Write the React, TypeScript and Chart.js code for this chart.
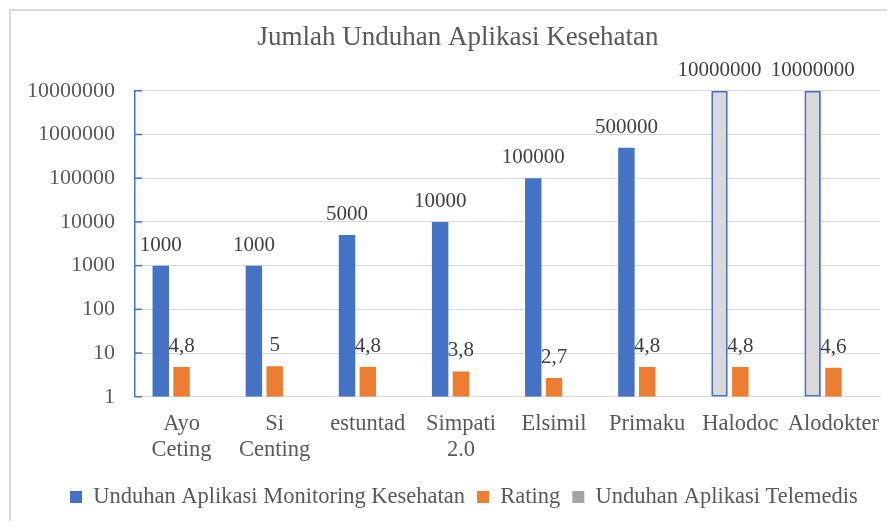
import React, { useEffect, useRef } from "react";
import { Chart, registerables } from "chart.js";

Chart.register(...registerables);

const FONT = "'Liberation Serif', 'Times New Roman', serif";

const categories: (string | string[])[] = [
  ["Ayo", "Ceting"],
  ["Si", "Centing"],
  "estuntad",
  ["Simpati", "2.0"],
  "Elsimil",
  "Primaku",
  "Halodoc",
  "Alodokter",
];
const downloads = [1000, 1000, 5000, 10000, 100000, 500000, 10000000, 10000000];
const ratings = [4.8, 5, 4.8, 3.8, 2.7, 4.8, 4.8, 4.6];
const telemedisEmpty = [null, null, null, null, null, null, null, null];
const isTelemedis = [false, false, false, false, false, false, true, true];
const yTicks = [1, 10, 100, 1000, 10000, 100000, 1000000, 10000000];
const seriesNames = [
  "Unduhan Aplikasi Monitoring Kesehatan",
  "Rating",
  "Unduhan Aplikasi Telemedis",
];
const seriesColors = ["#4472C4", "#ED7D31", "#A5A5A5"];

const dataLabels = {
  id: "dataLabels",
  afterDatasetsDraw(chart: any) {
    const ctx = chart.ctx;
    ctx.save();
    ctx.font = `21px ${FONT}`;
    ctx.fillStyle = "#404040";
    ctx.textAlign = "center";
    ctx.textBaseline = "alphabetic";
    [0, 1].forEach((di) => {
      const meta = chart.getDatasetMeta(di);
      meta.data.forEach((el: any, i: number) => {
        const v = chart.data.datasets[di].data[i];
        if (v == null) return;
        const text = di === 1 ? String(v).replace(".", ",") : String(v);
        ctx.fillText(text, el.x, el.y - 15);
      });
    });
    ctx.restore();
  },
};

const axisTicks = {
  id: "axisTicks",
  afterDatasetsDraw(chart: any) {
    const ctx = chart.ctx;
    const y = chart.scales.y;
    const left = chart.chartArea.left;
    ctx.save();
    ctx.strokeStyle = "#4472C4";
    ctx.lineWidth = 1.5;
    y.ticks.forEach((t: any) => {
      const py = y.getPixelForValue(t.value);
      ctx.beginPath();
      ctx.moveTo(left, py);
      ctx.lineTo(left + 7, py);
      ctx.stroke();
    });
    ctx.restore();
  },
};

const blockShift = {
  id: "blockShift",
  afterLayout(chart: any) {
    if (chart.titleBlock) chart.titleBlock.left = 28;
    if (chart.legend) chart.legend.left = 50;
  },
};

export default function App() {
  const ref = useRef<HTMLCanvasElement>(null);
  useEffect(() => {
    const chart = new Chart(ref.current!, {
      type: "bar",
      data: {
        labels: categories as any,
        datasets: [
          {
            label: seriesNames[0],
            data: downloads,
            backgroundColor: isTelemedis.map((t) => (t ? "#D9D9D9" : seriesColors[0])),
            borderColor: seriesColors[0],
            borderWidth: isTelemedis.map((t) => (t ? 2 : 0)),
            borderSkipped: false,
          },
          {
            label: seriesNames[1],
            data: ratings,
            backgroundColor: seriesColors[1],
            borderWidth: 0,
          },
          {
            label: seriesNames[2],
            data: telemedisEmpty as any,
            backgroundColor: seriesColors[2],
            borderWidth: 0,
          },
        ],
      },
      options: {
        responsive: false,
        animation: false,
        datasets: {
          bar: { categoryPercentage: 0.67, barPercentage: 0.79 },
        },
        layout: { padding: { left: 0, right: 7, top: 0, bottom: 2.75 } },
        plugins: {
          title: {
            display: true,
            text: "Jumlah Unduhan Aplikasi Kesehatan",
            color: "#595959",
            font: { family: FONT, size: 27, weight: "normal", lineHeight: 1.2 },
            padding: { top: 13.8, bottom: 36.6 },
          },
          legend: {
            position: "bottom",
            align: "start",
            labels: {
              boxWidth: 12,
              boxHeight: 12,
              padding: 12,
              color: "#595959",
              font: { family: FONT, size: 22.5 },
              generateLabels: () =>
                seriesNames.map((name, i) => ({
                  text: name,
                  fillStyle: seriesColors[i],
                  strokeStyle: seriesColors[i],
                  lineWidth: 0,
                  hidden: false,
                  datasetIndex: i,
                  fontColor: "#595959",
                })) as any,
            },
          },
          tooltip: { enabled: false },
        },
        scales: {
          x: {
            grid: { display: false, drawTicks: false },
            border: { display: true, color: "#D9D9D9", width: 1 },
            ticks: {
              color: "#595959",
              font: { family: FONT, size: 22.5, lineHeight: 1.13 },
              padding: 15,
              maxRotation: 0,
              autoSkip: false,
            },
            afterFit: (s: any) => {
              s.height = 77;
              s.paddingLeft = 0;
              s.paddingRight = 0;
            },
          },
          y: {
            type: "logarithmic",
            min: 1,
            max: 10000000,
            grid: { color: "#D9D9D9", lineWidth: 1, drawTicks: false },
            border: { display: true, color: "#4472C4", width: 1.5 },
            ticks: {
              color: "#595959",
              font: { family: FONT, size: 22 },
              padding: 20,
              callback: (v: any) => String(v),
            },
            afterBuildTicks: (s: any) => {
              s.ticks = yTicks.map((v) => ({ value: v }));
            },
            afterFit: (s: any) => {
              s.width = 127;
              s.paddingTop = 0;
              s.paddingBottom = 0;
            },
          },
        },
      },
      plugins: [dataLabels, axisTicks, blockShift],
    });
    return () => chart.destroy();
  }, []);

  return (
    <div style={{ position: "relative", width: 879, height: 513, overflow: "hidden" }}>
      <canvas
        ref={ref}
        width={879}
        height={513}
        style={{ display: "block", width: 879, height: 513 }}
      />
      <div
        style={{
          position: "absolute",
          left: 1,
          top: 1,
          right: -4,
          bottom: -4,
          borderTop: "2px solid #D9D9D9",
          borderLeft: "2px solid #D9D9D9",
          pointerEvents: "none",
        }}
      />
    </div>
  );
}
